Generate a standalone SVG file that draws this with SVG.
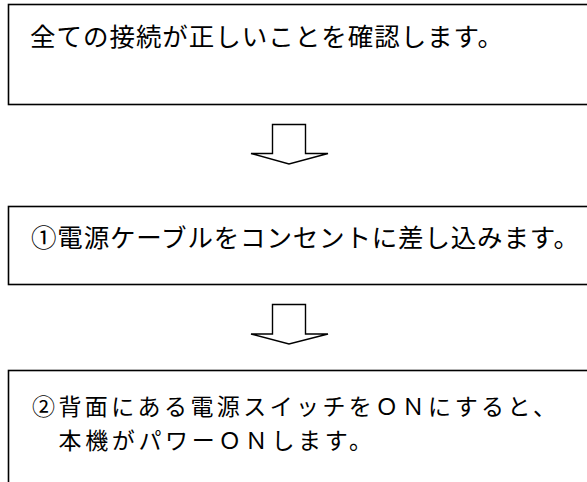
<svg xmlns="http://www.w3.org/2000/svg" width="587" height="482" viewBox="0 0 587 482">
<style>
.box{fill:#fff;stroke:#000;stroke-width:1.6}
.arrow{fill:#fff;stroke:#000;stroke-width:1.4;stroke-linejoin:miter}
.t{font-family:"Noto Sans CJK JP","Noto Sans CJK SC",sans-serif;font-size:25.5px;fill:#000}
.t2{font-size:23px}
</style>
<rect width="587" height="482" fill="#fff"/>
<g id="step0">
<rect class="box" x="8.5" y="4.5" width="590" height="100"/>
<text class="t" x="30" y="46" textLength="473" lengthAdjust="spacing">全ての接続が正しいことを確認します。</text>
</g>
<g id="step1">
<rect class="box" x="8.5" y="206.5" width="590" height="78"/>
<text class="t" x="31" y="247" textLength="548" lengthAdjust="spacing">①電源ケーブルをコンセントに差し込みます。</text>
</g>
<g id="step2">
<rect class="box" x="8.5" y="370.5" width="590" height="130"/>
<text class="t t2" x="32" y="415" textLength="524" lengthAdjust="spacing">②背面にある電源スイッチをＯＮにすると、</text>
<text class="t t2" x="32" y="449" textLength="340" lengthAdjust="spacing">　本機がパワーＯＮします。</text>
</g>
<g id="connectors">
<polygon class="arrow" points="272.5,124.5 305.5,124.5 305.5,153.5 328,153.5 289,164 251,153.5 272.5,153.5"/>
<polygon class="arrow" points="272.5,304.5 305.5,304.5 305.5,334 328,334 289,344 251,334 272.5,334"/>
</g>
</svg>
